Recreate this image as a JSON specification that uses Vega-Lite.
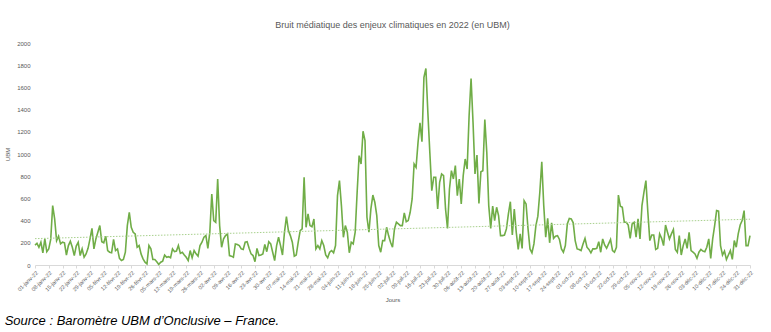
{
"$schema": "https://vega.github.io/schema/vega-lite/v6.json",
"background": "white",
"padding": {"left": 4, "top": 21, "right": 5, "bottom": 0},
"title": {"text": "Source : Baromètre UBM d’Onclusive – France.", "orient": "bottom", "anchor": "start", "font": "Liberation Sans", "fontStyle": "italic", "fontSize": 13, "fontWeight": "normal", "color": "#000000", "offset": 12, "frame": "bounds"},
"vconcat": [{
"title": {"text": "Bruit médiatique des enjeux climatiques en 2022 (en UBM)", "font": "Liberation Sans Narrow, Liberation Sans, sans-serif", "fontSize": 9, "fontWeight": "normal", "color": "#595959", "offset": 10},
"width": 715,
"height": 222,
"data": {"values": [
{"j":0,"v":180},{"j":1,"v":195},{"j":2,"v":160},{"j":3,"v":205},{"j":4,"v":110},{"j":5,"v":235},{"j":6,"v":120},{"j":7,"v":145},{"j":8,"v":230},{"j":9,"v":535},
{"j":10,"v":415},{"j":11,"v":220},{"j":12,"v":260},{"j":13,"v":190},{"j":14,"v":205},{"j":15,"v":200},{"j":16,"v":90},{"j":17,"v":175},{"j":18,"v":215},{"j":19,"v":160},
{"j":20,"v":85},{"j":21,"v":170},{"j":22,"v":205},{"j":23,"v":85},{"j":24,"v":145},{"j":25,"v":70},{"j":26,"v":100},{"j":27,"v":150},{"j":28,"v":235},{"j":29,"v":330},
{"j":30,"v":145},{"j":31,"v":235},{"j":32,"v":295},{"j":33,"v":355},{"j":34,"v":210},{"j":35,"v":200},{"j":36,"v":260},{"j":37,"v":130},{"j":38,"v":115},{"j":39,"v":110},
{"j":40,"v":230},{"j":41,"v":130},{"j":42,"v":145},{"j":43,"v":60},{"j":44,"v":40},{"j":45,"v":50},{"j":46,"v":115},{"j":47,"v":355},{"j":48,"v":475},{"j":49,"v":340},
{"j":50,"v":295},{"j":51,"v":280},{"j":52,"v":160},{"j":53,"v":175},{"j":54,"v":100},{"j":55,"v":55},{"j":56,"v":25},{"j":57,"v":10},{"j":58,"v":175},{"j":59,"v":145},
{"j":60,"v":50},{"j":61,"v":50},{"j":62,"v":30},{"j":63,"v":5},{"j":64,"v":25},{"j":65,"v":35},{"j":66,"v":90},{"j":67,"v":70},{"j":68,"v":75},{"j":69,"v":65},
{"j":70,"v":145},{"j":71,"v":120},{"j":72,"v":125},{"j":73,"v":175},{"j":74,"v":105},{"j":75,"v":115},{"j":76,"v":90},{"j":77,"v":70},{"j":78,"v":40},{"j":79,"v":130},
{"j":80,"v":65},{"j":81,"v":130},{"j":82,"v":100},{"j":83,"v":80},{"j":84,"v":175},{"j":85,"v":205},{"j":86,"v":250},{"j":87,"v":265},{"j":88,"v":150},{"j":89,"v":295},
{"j":90,"v":640},{"j":91,"v":400},{"j":92,"v":385},{"j":93,"v":775},{"j":94,"v":355},{"j":95,"v":160},{"j":96,"v":235},{"j":97,"v":265},{"j":98,"v":280},{"j":99,"v":85},
{"j":100,"v":80},{"j":101,"v":70},{"j":102,"v":190},{"j":103,"v":185},{"j":104,"v":175},{"j":105,"v":145},{"j":106,"v":140},{"j":107,"v":205},{"j":108,"v":210},{"j":109,"v":150},
{"j":110,"v":100},{"j":111,"v":85},{"j":112,"v":30},{"j":113,"v":150},{"j":114,"v":85},{"j":115,"v":90},{"j":116,"v":100},{"j":117,"v":185},{"j":118,"v":120},{"j":119,"v":210},
{"j":120,"v":190},{"j":121,"v":115},{"j":122,"v":40},{"j":123,"v":175},{"j":124,"v":250},{"j":125,"v":175},{"j":126,"v":90},{"j":127,"v":295},{"j":128,"v":435},{"j":129,"v":310},
{"j":130,"v":265},{"j":131,"v":205},{"j":132,"v":80},{"j":133,"v":90},{"j":134,"v":205},{"j":135,"v":310},{"j":136,"v":325},{"j":137,"v":790},{"j":138,"v":340},{"j":139,"v":460},
{"j":140,"v":355},{"j":141,"v":345},{"j":142,"v":415},{"j":143,"v":145},{"j":144,"v":175},{"j":145,"v":145},{"j":146,"v":220},{"j":147,"v":175},{"j":148,"v":90},{"j":149,"v":65},
{"j":150,"v":115},{"j":151,"v":130},{"j":152,"v":110},{"j":153,"v":175},{"j":154,"v":625},{"j":155,"v":760},{"j":156,"v":535},{"j":157,"v":250},{"j":158,"v":355},{"j":159,"v":295},
{"j":160,"v":110},{"j":161,"v":205},{"j":162,"v":190},{"j":163,"v":295},{"j":164,"v":655},{"j":165,"v":985},{"j":166,"v":910},{"j":167,"v":1205},{"j":168,"v":1120},{"j":169,"v":430},
{"j":170,"v":295},{"j":171,"v":505},{"j":172,"v":630},{"j":173,"v":565},{"j":174,"v":445},{"j":175,"v":175},{"j":176,"v":115},{"j":177,"v":220},{"j":178,"v":220},{"j":179,"v":340},
{"j":180,"v":265},{"j":181,"v":205},{"j":182,"v":160},{"j":183,"v":325},{"j":184,"v":385},{"j":185,"v":370},{"j":186,"v":355},{"j":187,"v":355},{"j":188,"v":470},{"j":189,"v":390},
{"j":190,"v":400},{"j":191,"v":475},{"j":192,"v":595},{"j":193,"v":910},{"j":194,"v":880},{"j":195,"v":1105},{"j":196,"v":1280},{"j":197,"v":1110},{"j":198,"v":1690},{"j":199,"v":1770},
{"j":200,"v":1375},{"j":201,"v":1015},{"j":202,"v":670},{"j":203,"v":790},{"j":204,"v":790},{"j":205,"v":505},{"j":206,"v":745},{"j":207,"v":820},{"j":208,"v":805},{"j":209,"v":505},
{"j":210,"v":330},{"j":211,"v":685},{"j":212,"v":850},{"j":213,"v":775},{"j":214,"v":895},{"j":215,"v":625},{"j":216,"v":775},{"j":217,"v":550},{"j":218,"v":805},{"j":219,"v":955},
{"j":220,"v":865},{"j":221,"v":1345},{"j":222,"v":1680},{"j":223,"v":1285},{"j":224,"v":820},{"j":225,"v":990},{"j":226,"v":555},{"j":227,"v":840},{"j":228,"v":850},{"j":229,"v":1310},
{"j":230,"v":1015},{"j":231,"v":535},{"j":232,"v":330},{"j":233,"v":530},{"j":234,"v":400},{"j":235,"v":520},{"j":236,"v":445},{"j":237,"v":265},{"j":238,"v":265},{"j":239,"v":270},
{"j":240,"v":325},{"j":241,"v":460},{"j":242,"v":570},{"j":243,"v":270},{"j":244,"v":505},{"j":245,"v":295},{"j":246,"v":140},{"j":247,"v":280},{"j":248,"v":150},{"j":249,"v":580},
{"j":250,"v":550},{"j":251,"v":325},{"j":252,"v":145},{"j":253,"v":110},{"j":254,"v":190},{"j":255,"v":355},{"j":256,"v":440},{"j":257,"v":655},{"j":258,"v":930},{"j":259,"v":535},
{"j":260,"v":250},{"j":261,"v":420},{"j":262,"v":200},{"j":263,"v":380},{"j":264,"v":240},{"j":265,"v":260},{"j":266,"v":265},{"j":267,"v":230},{"j":268,"v":145},{"j":269,"v":115},
{"j":270,"v":175},{"j":271,"v":370},{"j":272,"v":420},{"j":273,"v":415},{"j":274,"v":380},{"j":275,"v":220},{"j":276,"v":145},{"j":277,"v":140},{"j":278,"v":130},{"j":279,"v":190},
{"j":280,"v":240},{"j":281,"v":160},{"j":282,"v":140},{"j":283,"v":110},{"j":284,"v":145},{"j":285,"v":145},{"j":286,"v":150},{"j":287,"v":210},{"j":288,"v":115},{"j":289,"v":235},
{"j":290,"v":180},{"j":291,"v":150},{"j":292,"v":190},{"j":293,"v":230},{"j":294,"v":130},{"j":295,"v":115},{"j":296,"v":160},{"j":297,"v":630},{"j":298,"v":530},{"j":299,"v":520},
{"j":300,"v":385},{"j":301,"v":385},{"j":302,"v":360},{"j":303,"v":240},{"j":304,"v":370},{"j":305,"v":385},{"j":306,"v":250},{"j":307,"v":415},{"j":308,"v":235},{"j":309,"v":535},
{"j":310,"v":655},{"j":311,"v":760},{"j":312,"v":475},{"j":313,"v":220},{"j":314,"v":270},{"j":315,"v":270},{"j":316,"v":140},{"j":317,"v":150},{"j":318,"v":280},{"j":319,"v":240},
{"j":320,"v":175},{"j":321,"v":360},{"j":322,"v":295},{"j":323,"v":235},{"j":324,"v":280},{"j":325,"v":320},{"j":326,"v":140},{"j":327,"v":115},{"j":328,"v":265},{"j":329,"v":90},
{"j":330,"v":175},{"j":331,"v":235},{"j":332,"v":150},{"j":333,"v":295},{"j":334,"v":130},{"j":335,"v":115},{"j":336,"v":100},{"j":337,"v":60},{"j":338,"v":115},{"j":339,"v":140},
{"j":340,"v":125},{"j":341,"v":120},{"j":342,"v":160},{"j":343,"v":235},{"j":344,"v":60},{"j":345,"v":235},{"j":346,"v":355},{"j":347,"v":490},{"j":348,"v":485},{"j":349,"v":175},
{"j":350,"v":90},{"j":351,"v":125},{"j":352,"v":50},{"j":353,"v":90},{"j":354,"v":130},{"j":355,"v":50},{"j":356,"v":220},{"j":357,"v":160},{"j":358,"v":280},{"j":359,"v":360},
{"j":360,"v":400},{"j":361,"v":490},{"j":362,"v":175},{"j":363,"v":175},{"j":364,"v":265}
]},
"encoding": {
  "x": {"field": "j", "type": "quantitative", "scale": {"domain": [0, 364], "nice": false, "zero": false},
    "axis": {"title": "Jours", "values": [0,7,14,21,28,35,42,49,56,63,70,77,84,91,98,105,112,119,126,133,140,147,154,161,168,175,182,189,196,203,210,217,224,231,238,245,252,259,266,273,280,287,294,301,308,315,322,329,336,343,350,357,364],
      "labelExpr": "timeFormat(datetime(2022,0,1+datum.value),'%d') + '-' + ['janv','févr','mars','avr','mai','juin','juil','août','sept','oct','nov','déc'][month(datetime(2022,0,1+datum.value))] + '-22'",
      "labelAngle": -45, "labelFontSize": 5.5, "labelOverlap": false, "labelPadding": 2, "labelFlush": false,
      "domain": true, "domainColor": "#d9d9d9", "ticks": true, "tickColor": "#d9d9d9", "tickSize": 3, "grid": false, "titlePadding": 3}},
  "y": {"field": "v", "type": "quantitative", "scale": {"domain": [0, 2000], "nice": false},
    "axis": {"title": "UBM", "format": "d", "values": [0,200,400,600,800,1000,1200,1400,1600,1800,2000], "domain": false, "ticks": false, "grid": false, "labelFontSize": 6, "labelPadding": 5, "titlePadding": 6}}
},
"layer": [
  {"mark": {"type": "line", "color": "#70AD47", "strokeWidth": 1.6}},
  {"transform": [{"regression": "v", "on": "j"}], "mark": {"type": "line", "color": "#A9D18E", "strokeWidth": 1, "strokeDash": [1.5, 1.5]}}
]
}],
"config": {
  "view": {"stroke": null},
  "font": "Liberation Sans Narrow, Liberation Sans, sans-serif",
  "axis": {"labelColor": "#595959", "titleColor": "#595959", "titleFontSize": 6, "titleFontWeight": "normal", "labelFont": "Liberation Sans Narrow, Liberation Sans, sans-serif", "titleFont": "Liberation Sans Narrow, Liberation Sans, sans-serif"}
}
}
